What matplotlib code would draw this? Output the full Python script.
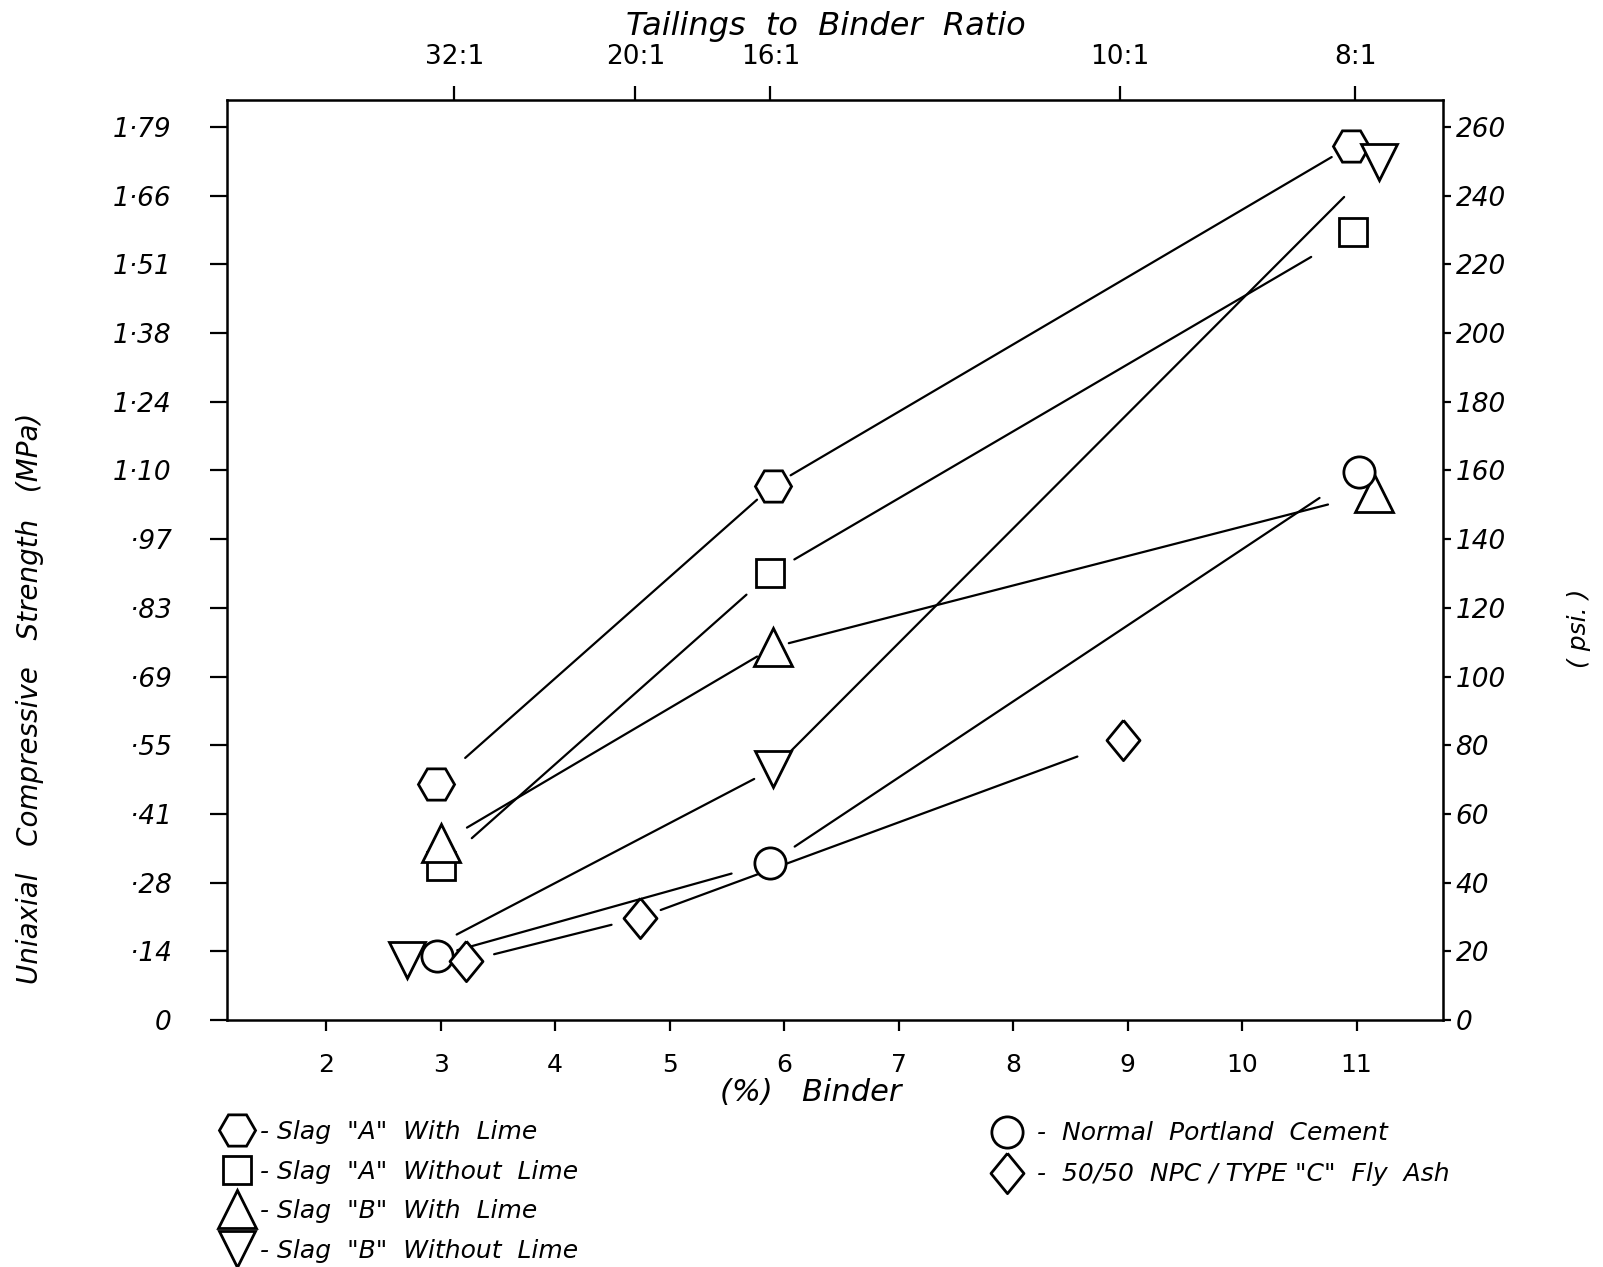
import matplotlib
matplotlib.use("Agg")
import matplotlib.pyplot as plt

# values: x = % binder, y = strength in psi
slag_a_lime_x = [2.96, 5.90, 10.95]
slag_a_lime_psi = [68.8, 155.5, 254.5]

slag_a_nolime_x = [3.0, 5.88, 10.97]
slag_a_nolime_psi = [44.9, 130.0, 229.3]

slag_b_lime_x = [3.0, 5.90, 11.15]
slag_b_lime_psi = [51.5, 108.5, 153.5]

slag_b_nolime_x = [2.71, 5.90, 11.20]
slag_b_nolime_psi = [17.4, 73.0, 249.9]

npc_x = [2.97, 5.88, 11.02]
npc_psi = [18.7, 45.8, 159.6]

flyash_x = [3.22, 4.74, 8.96]
flyash_psi = [17.1, 29.8, 81.6]

binder_ticks = [2, 3, 4, 5, 6, 7, 8, 9, 10, 11]
psi_ticks = [0, 20, 40, 60, 80, 100, 120, 140, 160, 180, 200, 220, 240, 260]
mpa_labels = ['0', '·14', '·28', '·41', '·55', '·69', '·83', '·97',
              '1·10', '1·24', '1·38', '1·51', '1·66', '1·79']
ratio_ticks = [3.12, 4.70, 5.88, 8.93, 10.99]
ratio_labels = ['32:1', '20:1', '16:1', '10:1', '8:1']

labels = ['- Slag  "A"  With  Lime', '- Slag  "A"  Without  Lime',
          '- Slag  "B"  With  Lime', '- Slag  "B"  Without  Lime',
          '-  Normal  Portland  Cement', '-  50/50  NPC / TYPE "C"  Fly  Ash']

diamond = [(0, 1), (0.82, 0), (0, -1), (-0.82, 0), (0, 1)]

# marker, marker size, line gaps (points) at each end of each segment
series = [
    (slag_a_lime_x, slag_a_lime_psi, 'H', 26, [(28, 15), (15, 16)]),
    (slag_a_nolime_x, slag_a_nolime_psi, 's', 20, [(30, 23), (20, 35)]),
    (slag_b_lime_x, slag_b_lime_psi, '^', 27, [(22, 13), (12, 34)]),
    (slag_b_nolime_x, slag_b_nolime_psi, 'v', 26, [(40, 15), (17, 36)]),
    (npc_x, npc_psi, 'o', 22.5, [(15, 29), (21, 34)]),
    (flyash_x, flyash_psi, diamond, 29, [(21, 21), (16, 35)]),
]

fig = plt.figure(figsize=(16.03, 12.67), dpi=100)
ax = fig.add_axes([0.1416, 0.1949, 0.7586, 0.7261])
ax.set_xlim(1.134, 11.755)
ax.set_ylim(0, 267.8)

handles = []
for x, y, mk, ms, gaps in series:
    for i in range(len(x) - 1):
        ax.annotate('', xy=(x[i + 1], y[i + 1]), xytext=(x[i], y[i]),
                    arrowprops=dict(arrowstyle='-', color='black', lw=1.6,
                                    shrinkA=gaps[i][0], shrinkB=gaps[i][1]))
    h, = ax.plot(x, y, linestyle='none', marker=mk, ms=ms, mfc='white',
                 mec='black', mew=2.0, zorder=5)
    handles.append(h)

for sp in ax.spines.values():
    sp.set_linewidth(1.8)

ax.set_xticks(binder_ticks)
ax.set_xticklabels([str(t) for t in binder_ticks])
ax.tick_params(axis='x', direction='out', length=8, width=1.6, pad=16, labelsize=18)

ax.set_yticks(psi_ticks)
ax.set_yticklabels(mpa_labels)
ax.tick_params(axis='y', direction='out', length=12, width=1.6, pad=28, labelsize=19)
for lbl in ax.get_yticklabels():
    lbl.set_style('italic')

right = ax.secondary_yaxis('right')
right.set_yticks(psi_ticks)
right.set_yticklabels([str(t) for t in psi_ticks])
right.tick_params(direction='out', length=6, width=1.6, pad=3, labelsize=19)
for lbl in right.get_yticklabels():
    lbl.set_style('italic')

top = ax.secondary_xaxis('top')
top.set_xticks(ratio_ticks)
top.set_xticklabels(ratio_labels)
top.tick_params(direction='out', length=10, width=1.6, pad=12, labelsize=19)

fig.text(0.515, 0.979, 'Tailings  to  Binder  Ratio', ha='center', va='center',
         fontsize=23, style='italic')
fig.text(0.506, 0.138, '(%)   Binder', ha='center', va='center',
         fontsize=22, style='italic')
fig.text(0.019, 0.449, 'Uniaxial   Compressive   Strength   (MPa)', rotation=90,
         ha='center', va='center', fontsize=20, style='italic')
fig.text(0.985, 0.504, '( psi. )', rotation=90, ha='center', va='center',
         fontsize=18, style='italic')

leg_font = {'size': 18, 'style': 'italic'}
leg1 = ax.legend(handles[:4], labels[:4], loc='upper left',
                 bbox_to_anchor=(0.1385, 0.116), bbox_transform=fig.transFigure,
                 frameon=False, prop=leg_font, handlelength=1.2, handletextpad=0.3,
                 labelspacing=0.62, borderpad=0, borderaxespad=0, numpoints=1)
ax.add_artist(leg1)
ax.legend(handles[4:], labels[4:], loc='upper left',
          bbox_to_anchor=(0.619, 0.115), bbox_transform=fig.transFigure,
          frameon=False, prop=leg_font, handlelength=1.2, handletextpad=0.6,
          labelspacing=0.68, borderpad=0, borderaxespad=0, numpoints=1)

fig.savefig('out.png', dpi=100, facecolor='white')
